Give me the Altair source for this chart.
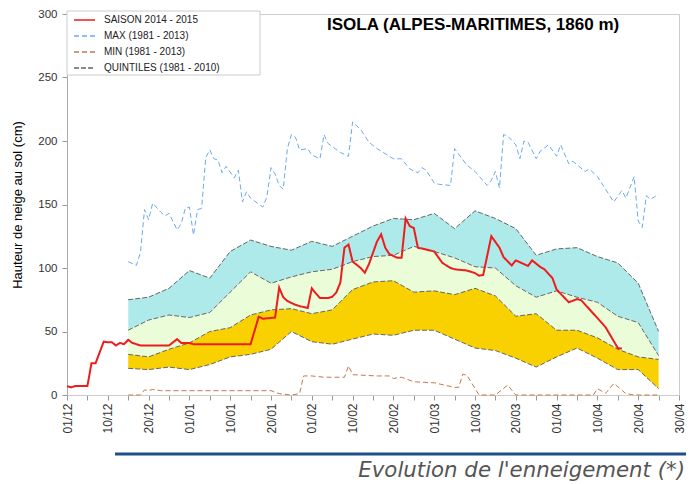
import altair as alt
import pandas as pd

# ---------------- texts ----------------
TITLE = "ISOLA  (ALPES-MARITIMES, 1860 m)"
FOOTER = "Evolution de l'enneigement (*)"
Y_TITLE = "Hauteur de neige au sol (cm)"
S_SAISON = "SAISON 2014 - 2015"
S_MAX = "MAX (1981 - 2013)"
S_MIN = "MIN (1981 - 2013)"
S_Q = "QUINTILES (1981 - 2010)"

# x axis: day index from 01/12 (0) to 30/04 (150)
x_tick_labels = ["01/12", "10/12", "20/12", "01/01", "10/01", "20/01", "01/02", "10/02",
                 "20/02", "01/03", "10/03", "20/03", "01/04", "10/04", "20/04", "30/04"]
y_ticks = [0, 50, 100, 150, 200, 250, 300]

# ---------------- quintiles (1981-2010) ----------------
quint_days = [15, 20, 25, 30, 35, 40, 45, 50, 55, 60, 65, 70, 75, 80, 85, 90, 95, 100,
              105, 110, 115, 120, 125, 130, 135, 140, 145]
q80 = [75, 77, 84, 98, 92, 113, 122, 117, 114, 121, 117, 125, 133, 139, 138, 143, 131, 145,
       139, 131, 110, 115, 116, 109, 104, 88, 50]
q60 = [51, 59, 63, 61, 65, 81, 97, 88, 93, 97, 99, 105, 109, 110, 117, 113, 108, 101,
       100, 86, 77, 82, 77, 73, 62, 57, 31]
q40 = [32, 30, 36, 41, 50, 53, 63, 67, 68, 64, 67, 83, 89, 90, 81, 82, 79, 84,
       78, 62, 64, 51, 51, 45, 36, 30, 28]
q20 = [21, 20, 22, 20, 24, 30, 32, 36, 50, 42, 40, 44, 48, 47, 51, 51, 44, 37,
       35, 29, 22, 30, 37, 29, 20, 20, 5]

# ---------------- MAX (1981-2013) ----------------
max_days = [15, 17, 18, 19, 20, 21, 23, 24, 25, 27, 28, 29, 30, 31, 32, 33, 34, 35, 36, 37,
            38, 39, 41, 42, 43, 44, 45, 48, 49, 50, 51, 52, 53, 54, 55, 56, 57, 59, 60, 62,
            63, 64, 67, 69, 70, 72, 74, 76, 80, 82, 84, 86, 87, 88, 90, 91, 94, 95, 98, 100,
            103, 104, 105, 106, 107, 108, 110, 111, 112, 113, 115, 116, 118, 120, 121, 123,
            124, 127, 128, 130, 134, 136, 137, 139, 140, 141, 142, 143, 145]
max_vals = [105, 102, 112, 146, 138, 151, 144, 141, 143, 130, 135, 147, 148, 126, 146, 147,
            187, 193, 186, 185, 175, 180, 171, 177, 152, 160, 155, 148, 156, 179, 174, 165,
            162, 194, 205, 203, 193, 194, 189, 186, 205, 198, 191, 188, 215, 209, 199, 194,
            186, 186, 178, 175, 179, 177, 167, 166, 165, 194, 181, 176, 165, 169, 176, 163,
            205, 204, 197, 186, 200, 199, 186, 192, 197, 188, 197, 182, 184, 176, 178, 172,
            152, 161, 155, 172, 137, 132, 157, 154, 158]

# ---------------- MIN (1981-2013) ----------------
min_days = [15, 18, 19, 20, 21, 23, 50, 52, 55, 57, 58, 60, 63, 68, 69, 70, 76, 79, 80, 82,
            85, 90, 95, 96, 97, 98, 101, 105, 108, 110, 129, 130, 132, 134, 135, 137, 139, 145]
min_vals = [0, 0, 4, 3.5, 4.4, 3.4, 3.4, 1, 0, 1, 15, 15, 14, 14, 23, 16, 15, 15, 13, 14,
            10.4, 9.6, 6, 6, 16.4, 15.6, 0, 0, 7.8, 0, 0, 5, 1.3, 9, 6.5, 1, 0, 0]

# ---------------- SAISON 2014-2015 ----------------
saison_days = [0, 1, 2, 5, 6, 7, 9, 10, 11, 12, 13, 14, 15, 16, 18, 25, 27, 28, 30, 31, 45,
               47, 48, 51, 52, 53, 54, 56, 57, 59, 60, 61, 62, 64, 65, 66, 67, 68, 69, 70, 72,
               73, 74, 76, 77, 78, 79, 81, 82, 83, 84, 85, 86, 88, 90, 92, 94, 95, 98, 100,
               101, 102, 104, 106, 107, 109, 110, 113, 114, 116, 117, 119, 120, 123, 125,
               126, 128, 131, 132, 135, 136]
saison_vals = [7, 6, 7, 7, 25, 25, 42, 41.5, 41.5, 39, 41, 40, 43.5, 41, 39, 39, 44, 41, 41,
               40, 40, 61.7, 60, 61, 84.6, 77, 74, 71, 70, 68.5, 84, 80, 76.3, 76.3, 77.3,
               80.7, 88.5, 116, 118.5, 105, 100, 96.3, 103, 121, 126.5, 116, 111, 108, 108,
               139, 133, 131.5, 116, 114.6, 113, 104, 100, 99, 98, 96, 94, 94.5, 125, 116,
               108.6, 102, 106, 101.6, 106, 100.8, 99, 92, 83, 73, 75.5, 74.7, 67.7, 57,
               53.4, 37, 36.5]

# ---------------- tables ----------------
bands = pd.DataFrame({"day": quint_days, "q20": q20, "q40": q40, "q60": q60, "q80": q80})

rows = []
for d, v in zip(max_days, max_vals):
    rows.append({"day": d, "value": v, "series": S_MAX, "key": "max"})
for d, v in zip(min_days, min_vals):
    rows.append({"day": d, "value": v, "series": S_MIN, "key": "min"})
for name, arr in [("q20", q20), ("q40", q40), ("q60", q60), ("q80", q80)]:
    for d, v in zip(quint_days, arr):
        rows.append({"day": d, "value": v, "series": S_Q, "key": name})
dashed = pd.DataFrame(rows)
saison = pd.DataFrame({"day": saison_days, "value": saison_vals,
                       "series": S_SAISON, "key": "saison"})

domain = [S_SAISON, S_MAX, S_MIN, S_Q]
color_scale = alt.Scale(domain=domain, range=["#ee1c1c", "#6aaaf0", "#c8784c", "#666666"])
dash_scale = alt.Scale(domain=domain, range=[[1, 0], [5, 3], [5, 3], [5, 2]])

label_arr = "[" + ",".join("'%s'" % s for s in x_tick_labels) + "]"
x_axis = alt.Axis(values=list(range(0, 151, 5)),
                  labelExpr="datum.value % 10 === 0 ? " + label_arr + "[datum.value / 10] : ''",
                  labelAngle=270, labelFontSize=12, labelFont="Liberation Sans",
                  labelColor="#333333", labelPadding=3, labelOverlap=False,
                  tickSize=5, tickColor="#999999", domainColor="#cccccc", title=None,
                  grid=False)
y_axis = alt.Axis(values=y_ticks, labelFontSize=11.5, labelFont="Liberation Sans",
                  labelColor="#333333", labelPadding=5, tickSize=5, tickColor="#999999",
                  domainColor="#aaaaaa", title=Y_TITLE, titleFont="Liberation Sans",
                  titleFontSize=13, titleFontWeight="normal", titleColor="#000000",
                  titlePadding=13, grid=False)

X = alt.X("day:Q", scale=alt.Scale(domain=[0, 150], nice=False), axis=x_axis)
Y = alt.Y("value:Q", scale=alt.Scale(domain=[0, 300], nice=False), axis=y_axis)

def band(lo, hi, col):
    return alt.Chart(bands).mark_area(color=col, opacity=1).encode(
        x=alt.X("day:Q", scale=alt.Scale(domain=[0, 150], nice=False), axis=x_axis),
        y=alt.Y(lo + ":Q", scale=alt.Scale(domain=[0, 300], nice=False), axis=y_axis),
        y2=alt.Y2(hi + ":Q"))

legend = alt.Legend(orient="none", legendX=0, legendY=-8, title=None, padding=6,
                    symbolType="stroke", symbolSize=441, symbolStrokeWidth=1.5,
                    labelFontSize=10, labelFont="Liberation Sans", labelColor="#222222",
                    labelOffset=8, rowPadding=0, clipHeight=16)

box = alt.Chart(pd.DataFrame({"a": [0]})).mark_rect(
    fill="white", stroke="#cccccc", strokeWidth=1).encode(
    x=alt.value(0), x2=alt.value(193), y=alt.value(-3), y2=alt.value(61))

dashed_lines = alt.Chart(dashed).mark_line(strokeWidth=1).encode(
    x=X, y=Y,
    color=alt.Color("series:N", scale=color_scale, legend=legend),
    strokeDash=alt.StrokeDash("series:N", scale=dash_scale, legend=legend),
    detail="key:N")

saison_line = alt.Chart(saison).mark_line(strokeWidth=2).encode(
    x=X, y=Y,
    color=alt.Color("series:N", scale=color_scale, legend=legend),
    strokeDash=alt.StrokeDash("series:N", scale=dash_scale, legend=legend))

one = pd.DataFrame({"a": [0]})
title = alt.Chart(one).mark_text(align="left", baseline="alphabetic", font="Liberation Sans",
                                 fontWeight="bold", fontSize=17, color="#000000").encode(
    x=alt.value(260), y=alt.value(16), text=alt.value(TITLE))
rule = alt.Chart(one).mark_rule(color="#1f4e8c", strokeWidth=3).encode(
    x=alt.value(48), x2=alt.value(625), y=alt.value(440))
footer = alt.Chart(one).mark_text(align="right", baseline="alphabetic", font="DejaVu Sans",
                                  fontStyle="italic", fontSize=21.3, color="#555555").encode(
    x=alt.value(618), y=alt.value(463), text=alt.value(FOOTER))

chart = alt.layer(
    box,
    band("q60", "q80", "#aeeaea"),
    band("q40", "q60", "#ebfcd9"),
    band("q20", "q40", "#f9d100"),
    dashed_lines,
    saison_line,
    title, rule, footer,
).properties(
    width=612, height=381,
    autosize=alt.AutoSizeParams(type="none"),
    padding={"left": 59, "top": 6, "right": 7, "bottom": 86},
).configure_view(stroke="#cccccc", strokeWidth=1)

chart.save("out.html", embed_options={"renderer": "svg", "actions": False})
